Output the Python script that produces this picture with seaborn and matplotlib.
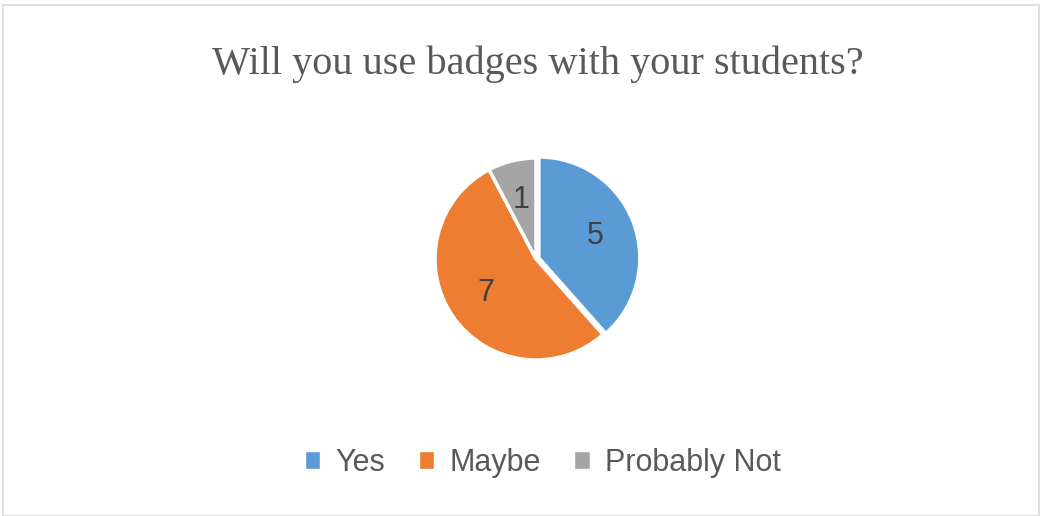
import matplotlib
matplotlib.use("Agg")
import matplotlib.pyplot as plt
import seaborn as sns
from matplotlib.patches import Rectangle

# data
answers = ["Yes", "Maybe", "Probably Not"]
counts = [5, 7, 1]
colors = ["#5B9BD5", "#ED7D31", "#A5A5A5"]

sns.set_theme(style="white")
plt.rcParams['font.family'] = ['Liberation Sans', 'DejaVu Sans']

W, H = 1042, 516
fig = plt.figure(figsize=(W / 100, H / 100), dpi=100)
fig.patch.set_facecolor("white")

# light chart frame
fig.add_artist(Rectangle((3 / W, 0), 1 - 6 / W, 1 - 5 / H, transform=fig.transFigure,
                         fill=False, edgecolor="#D9D9D9", linewidth=1.2))

# pie centred at ~(536, 259) px, radius ~102 px
cx, cy, r = 536, 259, 102
ax = fig.add_axes([(cx - r) / W, (H - cy - r) / H, 2 * r / W, 2 * r / H])
total = sum(counts)
wedges, texts, autotexts = ax.pie(
    counts, colors=colors, startangle=90, counterclock=False,
    explode=[0.03, 0, 0], radius=0.99,
    autopct=lambda p: f"{round(p * total / 100):d}", pctdistance=0.6,
    wedgeprops=dict(edgecolor="white", linewidth=2.5),
    textprops=dict(fontsize=22, color="#404040"))
ax.set_xlim(-1, 1)
ax.set_ylim(-1, 1)
ax.set_aspect("equal")

fig.text(0.516, 1 - 64 / H, "Will you use badges with your students?",
         ha="center", va="center", fontsize=29, color="#595959",
         family=["Liberation Serif", "DejaVu Serif"])

handles = [Rectangle((0, 0), 1, 1, facecolor=c) for c in colors]
fig.legend(handles, answers, loc="center", bbox_to_anchor=(0.521, 1 - 463 / H),
           ncol=3, frameon=False, fontsize=22, labelcolor="#595959",
           handlelength=0.5, handleheight=0.5, handletextpad=0.5, columnspacing=1.1)

plt.savefig("out.png", dpi=100)
plt.close()
